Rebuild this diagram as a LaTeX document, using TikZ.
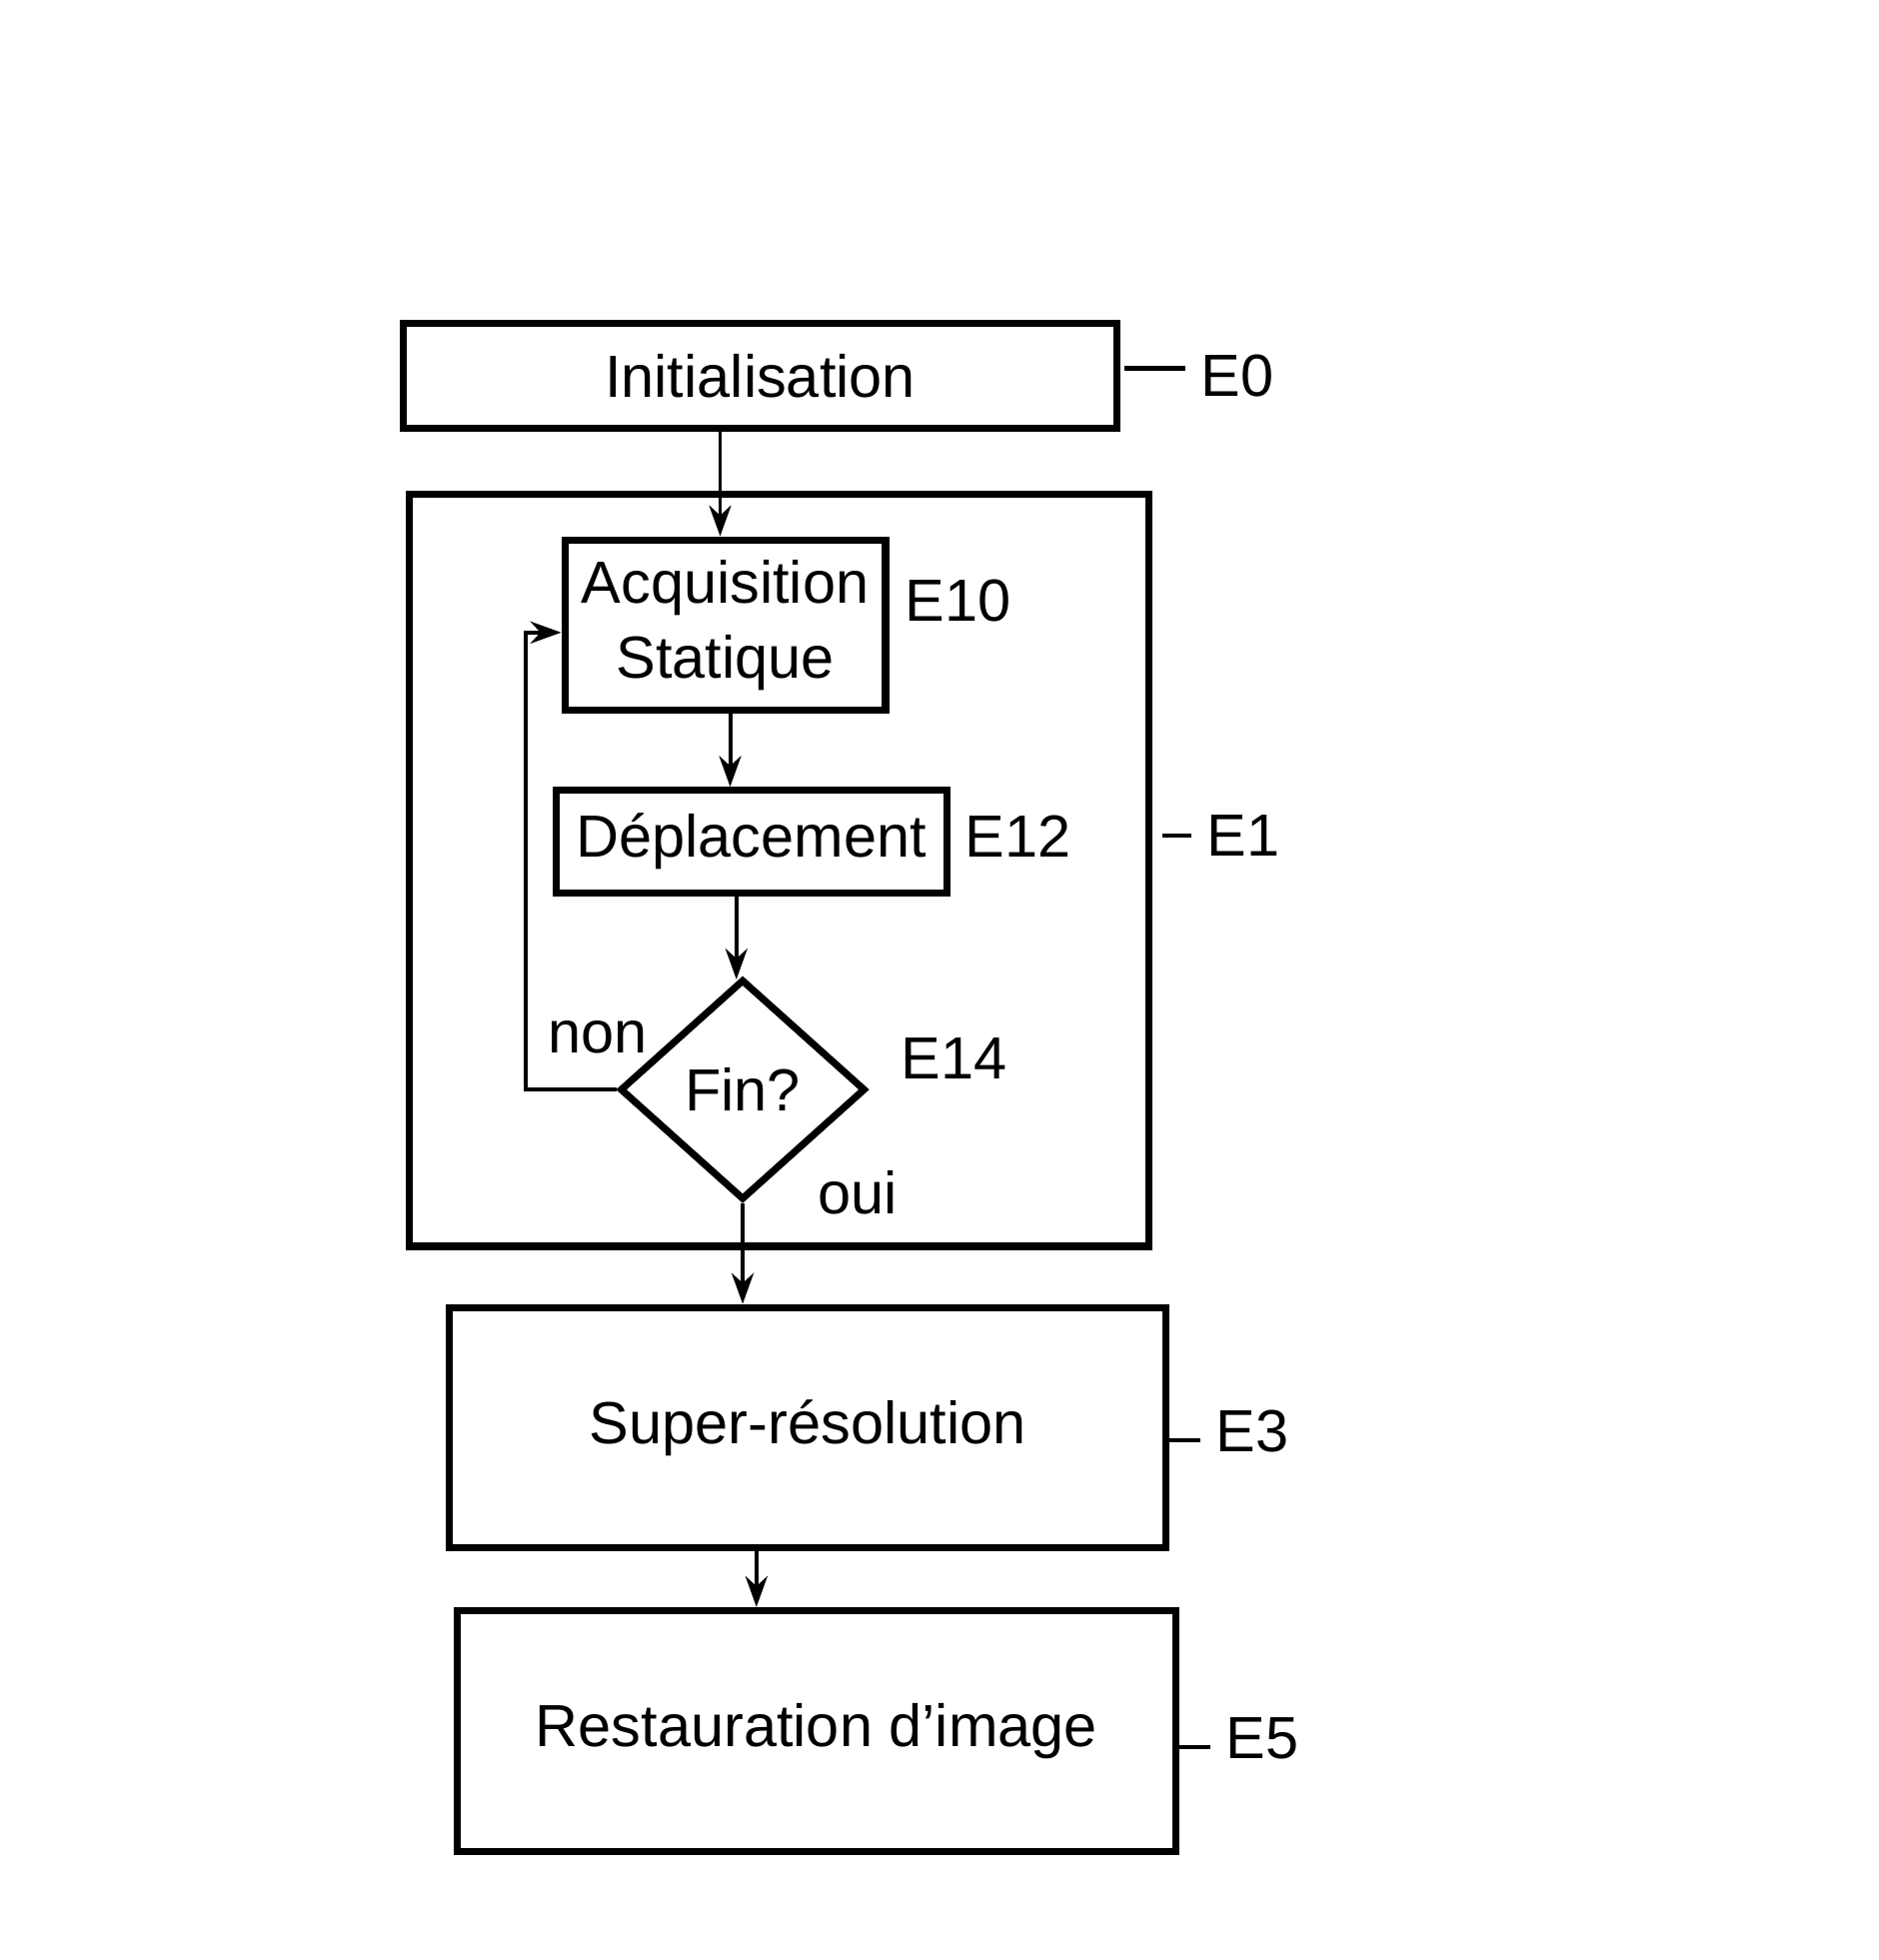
\documentclass[tikz,border=0pt]{standalone}
\usepackage{fontspec}
\setmainfont{Liberation Sans}
\usetikzlibrary{shapes.geometric,arrows.meta}
\begin{document}
\begin{tikzpicture}[x=0.01cm,y=-0.01cm,
  box/.style={draw,line width=1.6pt,inner sep=0pt},
  lbl/.style={font=\fontsize{13.5}{17}\selectfont},
  arr/.style={-{Stealth[length=7pt,width=5pt]},line width=0.9pt},
  tick/.style={line width=1pt}]
\useasboundingbox (0,0) rectangle (1500,1565);
\node[box,minimum width=5.7cm,minimum height=0.84cm,lbl] (init) at (607,300) {Initialisation};
\node[box,minimum width=5.9cm,minimum height=6.0cm] (e1) at (622,695) {};
\node[box,minimum width=2.56cm,minimum height=1.36cm,lbl,align=center] (acq) at (579,499) {Acquisition\\Statique};
\node[box,minimum width=3.12cm,minimum height=0.82cm,lbl] (dep) at (600,672) {Déplacement};
\node[box,diamond,minimum width=1.96cm,minimum height=1.76cm,lbl,inner sep=0pt] (fin) at (593,870) {Fin?};
\node[box,minimum width=5.72cm,minimum height=1.92cm,lbl] (sr) at (645,1140) {Super-résolution};
\node[box,minimum width=5.73cm,minimum height=1.92cm,lbl] (rest) at (652,1382) {Restauration d'image};
\node[lbl] (l0) at (988,300) {E0};
\node[lbl] (l1) at (993,667) {E1};
\node[lbl] (l10) at (765,480) {E10};
\node[lbl] (l12) at (813,668) {E12};
\node[lbl] (l14) at (762,845) {E14};
\node[lbl] (l3) at (1000,1143) {E3};
\node[lbl] (l5) at (1008,1388) {E5};
\node[lbl] (non) at (477,828) {non};
\node[lbl] (oui) at (685,952) {oui};
\coordinate (t0) at (898,294);
\coordinate (t1) at (928,667);
\coordinate (t3) at (928,1150);
\coordinate (t5) at (936,1395);
\draw[tick] (t0) -- (l0.west |- t0);
\draw[tick] (t1) -- (l1.west |- t1);
\draw[tick] (t3) -- (l3.west |- t3);
\draw[tick] (t5) -- (l5.west |- t5);
\draw[arr] (init.south -| 575,0) -- (acq.north -| 575,0);
\draw[arr] (acq.south -| 583,0) -- (dep.north -| 583,0);
\draw[arr] (dep.south -| 588,0) -- (588,782);
\draw[arr] (fin.west) -- (420,870) -- (420,505) -- (acq.west |- 420,505);
\draw[arr] (fin.south) -- (sr.north -| fin.south);
\draw[arr] (sr.south -| 604,0) -- (rest.north -| 604,0);
\end{tikzpicture}
\end{document}
